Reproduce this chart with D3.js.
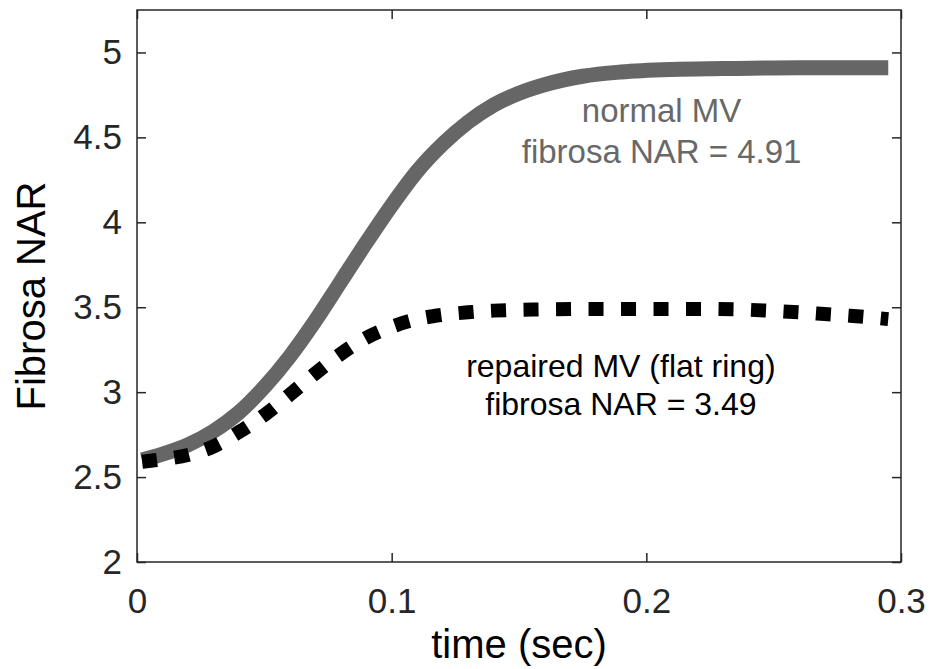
<!DOCTYPE html>
<html>
<head>
<meta charset="utf-8">
<script src="https://cdn.jsdelivr.net/npm/d3@7"></script>
<style>
  body { margin: 0; background: #fff; }
  svg text { font-family: "Liberation Sans", Arial, Helvetica, sans-serif; }
</style>
</head>
<body>
<svg id="plot" width="934" height="669"></svg>
<script>
"use strict";

// normal MV (solid gray)
const normalTime = [0.002, 0.01, 0.02, 0.03, 0.04, 0.05, 0.06, 0.07, 0.08, 0.09, 0.10, 0.11, 0.12, 0.13, 0.14, 0.15, 0.16, 0.175, 0.19, 0.21, 0.23, 0.26, 0.295];
const normalNAR = [2.6, 2.635, 2.69, 2.77, 2.88, 3.03, 3.21, 3.42, 3.65, 3.88, 4.10, 4.30, 4.46, 4.59, 4.69, 4.76, 4.81, 4.86, 4.885, 4.90, 4.905, 4.91, 4.91];

// repaired MV, flat ring (dotted black)
const repairedTime = [0.002, 0.01, 0.02, 0.03, 0.04, 0.05, 0.06, 0.07, 0.08, 0.09, 0.10, 0.11, 0.12, 0.13, 0.14, 0.16, 0.18, 0.20, 0.22, 0.24, 0.25, 0.26, 0.27, 0.28, 0.295];
const repairedNAR = [2.59, 2.605, 2.63, 2.68, 2.765, 2.865, 2.985, 3.11, 3.225, 3.32, 3.385, 3.43, 3.455, 3.47, 3.48, 3.487, 3.49, 3.49, 3.49, 3.485, 3.478, 3.47, 3.46, 3.45, 3.43];

const xTicks = [0, 0.1, 0.2, 0.3];
const yTicks = [2, 2.5, 3, 3.5, 4, 4.5, 5];

const margin = { top: 10, right: 33, bottom: 107, left: 137 };
const width = 934 - margin.left - margin.right;
const height = 669 - margin.top - margin.bottom;
const axisColor = "#262626";

const svg = d3.select("svg#plot");
const g = svg.append("g").attr("transform", `translate(${margin.left},${margin.top})`);

const x = d3.scaleLinear().domain([0, 0.3]).range([0, width]);
const y = d3.scaleLinear().domain([2, 5.25]).range([height, 0]);

// lines
const line = d3.line().x(d => x(d[0])).y(d => y(d[1])).curve(d3.curveMonotoneX);

g.append("path")
  .datum(d3.zip(normalTime, normalNAR))
  .attr("fill", "none")
  .attr("stroke", "#666666")
  .attr("stroke-width", 15)
  .attr("d", line);

g.append("path")
  .datum(d3.zip(repairedTime, repairedNAR))
  .attr("fill", "none")
  .attr("stroke", "#000")
  .attr("stroke-width", 14)
  .attr("stroke-dasharray", "15 17.5")
  .attr("d", line);

// axes (box with inward ticks)
function styleAxis(sel) {
  sel.select(".domain").remove();
  sel.selectAll(".tick line").attr("stroke", axisColor).attr("stroke-width", 1.5);
  sel.selectAll(".tick text")
    .attr("fill", axisColor)
    .style("font-size", "35px");
}

g.append("g")
  .attr("transform", `translate(0,${height})`)
  .call(d3.axisBottom(x).tickValues(xTicks).tickFormat(d3.format("~g")).tickSize(-9))
  .call(styleAxis)
  .call(s => s.selectAll(".tick text").attr("dy", "0.71em").attr("y", 26));

g.append("g")
  .call(d3.axisTop(x).tickValues(xTicks).tickSize(-9).tickFormat(""))
  .call(styleAxis);

g.append("g")
  .call(d3.axisLeft(y).tickValues(yTicks).tickFormat(d3.format("~g")).tickSize(-9))
  .call(styleAxis)
  .call(s => s.selectAll(".tick text").attr("x", -15));

g.append("g")
  .attr("transform", `translate(${width},0)`)
  .call(d3.axisRight(y).tickValues(yTicks).tickSize(-9).tickFormat(""))
  .call(styleAxis);

g.append("rect")
  .attr("width", width)
  .attr("height", height)
  .attr("fill", "none")
  .attr("stroke", axisColor)
  .attr("stroke-width", 1.5);

// axis labels
g.append("text")
  .attr("x", width / 2)
  .attr("y", height + 96)
  .attr("text-anchor", "middle")
  .attr("fill", "#000")
  .style("font-size", "40px")
  .text("time (sec)");

g.append("text")
  .attr("transform", `translate(${-92},${height / 2 + 10}) rotate(-90)`)
  .attr("text-anchor", "middle")
  .attr("fill", "#000")
  .style("font-size", "40px")
  .text("Fibrosa NAR");

// annotations
const notes = [
  { t: 0.206, v: 4.592, lines: ["normal MV", "fibrosa NAR = 4.91"], color: "#686868", size: 33, gap: 41 },
  { t: 0.190, v: 3.091, lines: ["repaired MV (flat ring)", "fibrosa NAR = 3.49"], color: "#000", size: 32, gap: 38.5 }
];

notes.forEach(n => {
  const txt = g.append("text")
    .attr("x", x(n.t))
    .attr("y", y(n.v))
    .attr("text-anchor", "middle")
    .attr("fill", n.color)
    .style("font-size", n.size + "px");
  n.lines.forEach((l, i) => {
    txt.append("tspan").attr("x", x(n.t)).attr("dy", i === 0 ? 0 : n.gap).text(l);
  });
});
</script>
</body>
</html>
